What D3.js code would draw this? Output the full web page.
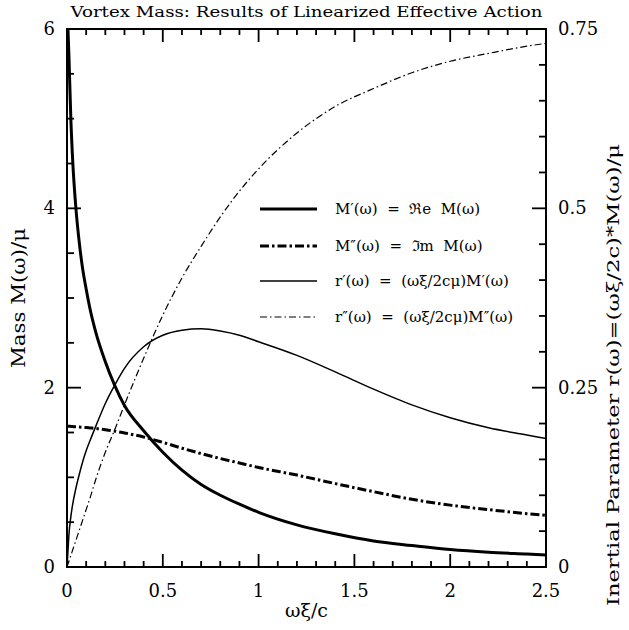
<!DOCTYPE html>
<html>
<head>
<meta charset="utf-8">
<script src="https://cdn.jsdelivr.net/npm/d3@7"></script>
<style>
  body { margin: 0; background: #fff; }
  svg { display: block; }
  text { font-family: "DejaVu Serif", serif; fill: #000; }
</style>
</head>
<body>
<svg id="chart" width="629" height="630"></svg>
<script>
// values
let omega  = [0, 0.005, 0.01, 0.02, 0.03, 0.045, 0.065, 0.08, 0.1, 0.12, 0.15, 0.2, 0.25, 0.3, 0.4, 0.5, 0.6, 0.7, 0.8, 0.9, 1.0, 1.2, 1.4, 1.6, 1.8, 2.0, 2.2, 2.4, 2.5]
let massRe = [null, 6.0, 5.7, 5.0, 4.52, 4.04, 3.6, 3.35, 3.1, 2.88, 2.62, 2.29, 2.02, 1.80, 1.52, 1.28, 1.08, 0.92, 0.80, 0.70, 0.61, 0.47, 0.37, 0.29, 0.24, 0.195, 0.165, 0.145, 0.135]
let massIm = [1.571, 1.57, 1.57, 1.568, 1.566, 1.563, 1.56, 1.558, 1.555, 1.551, 1.545, 1.53, 1.515, 1.495, 1.45, 1.39, 1.325, 1.265, 1.21, 1.16, 1.11, 1.025, 0.93, 0.84, 0.755, 0.69, 0.64, 0.595, 0.575]
// inertial parameter (right axis)
let inertRe = [0, 0.022, 0.045, 0.07, 0.088, 0.108, 0.13, 0.145, 0.162, 0.176, 0.196, 0.228, 0.254, 0.277, 0.307, 0.323, 0.330, 0.332, 0.329, 0.323, 0.314, 0.295, 0.272, 0.248, 0.226, 0.208, 0.194, 0.184, 0.179]
let inertIm = [0, 0.004, 0.008, 0.016, 0.024, 0.036, 0.052, 0.064, 0.08, 0.096, 0.122, 0.16, 0.192, 0.226, 0.291, 0.351, 0.403, 0.447, 0.488, 0.524, 0.555, 0.605, 0.642, 0.667, 0.689, 0.705, 0.716, 0.726, 0.73]

let xTicks = [0, 0.5, 1, 1.5, 2, 2.5]
let xTickLabels = ["0", "0.5", "1", "1.5", "2", "2.5"]
let yLeftTicks = [0, 2, 4, 6]
let yRightTicks = [0, 0.25, 0.5, 0.75]
let yRightTickLabels = ["0", "0.25", "0.5", "0.75"]

let legendNames = [
    "M\u2032(\u03c9)  =  \u211ce  M(\u03c9)",
    "M\u2033(\u03c9)  =  \u2111m  M(\u03c9)",
    "r\u2032(\u03c9)  =  (\u03c9\u03be/2c\u03bc)M\u2032(\u03c9)",
    "r\u2033(\u03c9)  =  (\u03c9\u03be/2c\u03bc)M\u2033(\u03c9)"
]

let svg = d3.select("#chart")
let pLeft = 67, pRight = 546, pTop = 29, pBottom = 567

let xScale = d3.scaleLinear([0, 2.5], [pLeft, pRight])
let yLeft = d3.scaleLinear([0, 6], [pBottom, pTop])
let yRight = d3.scaleLinear([0, 0.75], [pBottom, pTop])

svg.append("rect").attr("width", 629).attr("height", 630).attr("fill", "#fff")

svg.append("defs").append("clipPath").attr("id", "plotClip")
    .append("rect").attr("x", pLeft).attr("y", pTop).attr("width", pRight - pLeft).attr("height", pBottom - pTop)

// curves
let series = [
    {vals: massRe, scale: yLeft, width: 3, dash: null},
    {vals: massIm, scale: yLeft, width: 3, dash: "9,3,2.5,3"},
    {vals: inertRe, scale: yRight, width: 1.5, dash: null},
    {vals: inertIm, scale: yRight, width: 1.2, dash: "7,3,1.5,3"}
]

let plot = svg.append("g").attr("clip-path", "url(#plotClip)")

series.forEach(s => {
    let pts = omega.map((w, i) => [w, s.vals[i]])
    let line = d3.line()
        .defined(d => d[1] !== null)
        .x(d => xScale(d[0]))
        .y(d => s.scale(d[1]))
        .curve(d3.curveMonotoneX)
    plot.append("path")
        .attr("d", line(pts))
        .attr("fill", "none")
        .attr("stroke", "#000")
        .attr("stroke-width", s.width)
        .attr("stroke-dasharray", s.dash)
})

svg.append("rect")
    .attr("x", pLeft).attr("y", pTop)
    .attr("width", pRight - pLeft).attr("height", pBottom - pTop)
    .attr("fill", "none").attr("stroke", "#000").attr("stroke-width", 2)

// ticks, all pointing inward, drawn as small filled bars
function steps(lo, hi, step) {
    let n = Math.round((hi - lo) / step)
    return d3.range(n + 1).map(i => +(lo + i * step).toFixed(4))
}

let tickBars = []
steps(0, 2.5, 0.1).forEach(v => {
    let len = xTicks.some(t => Math.abs(t - v) < 1e-6) ? 13 : 6
    let x = xScale(v)
    tickBars.push({x: x - 0.9, y: pBottom - len, w: 1.8, h: len})
    tickBars.push({x: x - 0.9, y: pTop, w: 1.8, h: len})
})
steps(0, 6, 0.5).forEach(v => {
    let len = yLeftTicks.some(t => Math.abs(t - v) < 1e-6) ? 14 : 7
    tickBars.push({x: pLeft, y: yLeft(v) - 0.9, w: len, h: 1.8})
})
steps(0, 0.75, 0.05).forEach(v => {
    let len = yRightTicks.some(t => Math.abs(t - v) < 1e-6) ? 14 : 7
    tickBars.push({x: pRight - len, y: yRight(v) - 0.9, w: len, h: 1.8})
})

svg.append("g").selectAll("rect").data(tickBars).enter().append("rect")
    .attr("x", d => d.x).attr("y", d => d.y)
    .attr("width", d => d.w).attr("height", d => d.h)
    .attr("fill", "#000")

// tick labels
svg.selectAll(".xlab").data(xTicks).enter().append("text")
    .attr("x", d => xScale(d)).attr("y", pBottom + 30)
    .attr("text-anchor", "middle").attr("font-size", 18)
    .text((d, i) => xTickLabels[i])

svg.selectAll(".ylab").data(yLeftTicks).enter().append("text")
    .attr("x", pLeft - 12).attr("y", d => yLeft(d) + 6)
    .attr("text-anchor", "end").attr("font-size", 18)
    .text(d => d)

svg.selectAll(".yrlab").data(yRightTicks).enter().append("text")
    .attr("x", pRight + 12).attr("y", d => yRight(d) + 6)
    .attr("text-anchor", "start").attr("font-size", 18)
    .text((d, i) => yRightTickLabels[i])

// titles
svg.append("text")
    .attr("x", (pLeft + pRight) / 2).attr("y", 17)
    .attr("text-anchor", "middle").attr("font-size", 15)
    .attr("textLength", 472).attr("lengthAdjust", "spacingAndGlyphs")
    .text("Vortex Mass: Results of Linearized Effective Action")

svg.append("text")
    .attr("x", (pLeft + pRight) / 2).attr("y", 617)
    .attr("text-anchor", "middle").attr("font-size", 19)
    .text("\u03c9\u03be/c")

svg.append("text")
    .attr("transform", `translate(25,${(pTop + pBottom) / 2}) rotate(-90)`)
    .attr("text-anchor", "middle").attr("font-size", 18)
    .attr("textLength", 140).attr("lengthAdjust", "spacingAndGlyphs")
    .text("Mass M(\u03c9)/\u03bc")

svg.append("text")
    .attr("transform", "translate(619,606) rotate(-90)")
    .attr("text-anchor", "start").attr("font-size", 17)
    .attr("textLength", 462).attr("lengthAdjust", "spacingAndGlyphs")
    .text("Inertial Parameter r(\u03c9)=(\u03c9\u03be/2c)*M(\u03c9)/\u03bc")

// legend
let legendY = [209, 246, 281, 317]
let legend = svg.append("g")
series.forEach((s, i) => {
    legend.append("line")
        .attr("x1", 260).attr("x2", 317)
        .attr("y1", legendY[i]).attr("y2", legendY[i])
        .attr("stroke", "#000")
        .attr("stroke-width", s.width)
        .attr("stroke-dasharray", s.dash)
    legend.append("text")
        .attr("x", 335).attr("y", legendY[i] + 5)
        .attr("font-size", 15)
        .style("white-space", "pre")
        .text(legendNames[i])
})
</script>
</body>
</html>
